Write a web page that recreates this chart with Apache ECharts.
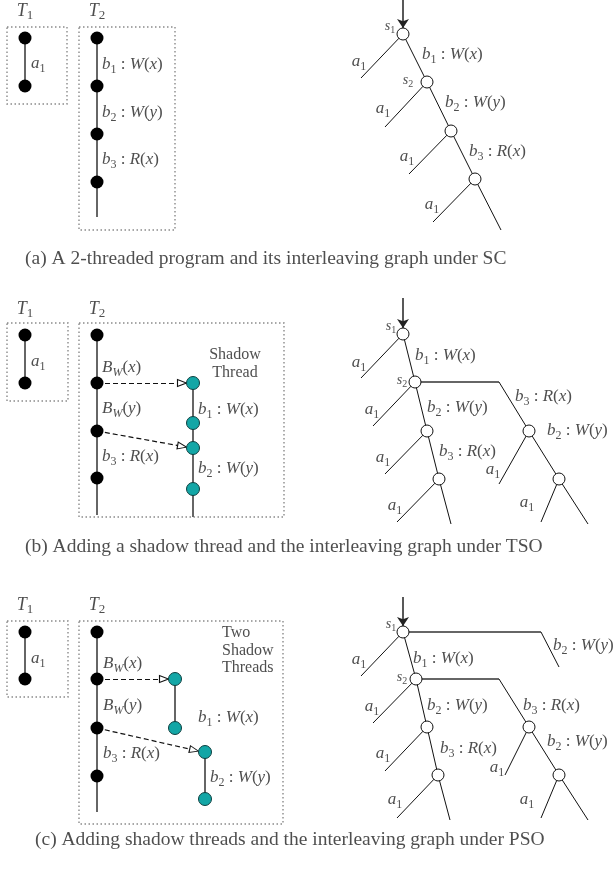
<!DOCTYPE html>
<html><head><meta charset="utf-8">
<script src="https://cdn.jsdelivr.net/npm/echarts@6/dist/echarts.min.js"></script>
<style>html,body{margin:0;padding:0;background:#fff}#c{width:613px;height:871px}</style>
</head><body><div id="c"></div>
<script>
// ---- diagram data (units = layout grid of the figure) ----
const dottedBoxes = [
  [7,27,67,104],[79,27,175,230],
  [7,323,68,401],[79,323,284,517],
  [7,621,68,697],[79,621,283,824]
];
const threadLines = [
  [[25,38],[25,86]],[[97,38],[97,217]],
  [[25,335],[25,383]],[[97,335],[97,515]],[[193,383],[193,517]],
  [[25,632],[25,679]],[[97,632],[97,812]],[[175,679],[175,728]],[[205,752],[205,799]]
];
const eventNodes = [
  [25,38],[25,86],[97,38],[97,86],[97,134],[97,182],
  [25,335],[25,383],[97,335],[97,383],[97,431],[97,478],
  [25,632],[25,679],[97,632],[97,679],[97,728],[97,776]
];
const shadowNodes = [
  [193,383],[193,423],[193,448],[193,489],
  [175,679],[175,728],[205,752],[205,799]
];
const dashedArrows = [
  [[97,383],[186,383]],[[97,431],[186,447]],
  [[97,679],[168,679]],[[97,728],[198,751]]
];
const entryArrows = [
  [[403,0],[403,28]],[[403,298],[403,328]],[[403,597],[403,626]]
];
const stateNodes = [
  [403,34],[427,82],[451,131],[475,179],
  [403,334],[415,382],[427,431],[439,479],[529,431],[559,479],
  [403,632],[416,679],[427,727],[438,775],[529,727],[559,775]
];
const treeEdges = [
  // (a)
  [[403,34],[427,82]],[[427,82],[451,131]],[[451,131],[475,179]],[[475,179],[501,230]],
  [[403,34],[361,78]],[[427,82],[385,127]],[[451,131],[409,174]],[[475,179],[433,222]],
  // (b)
  [[403,334],[415,382]],[[415,382],[427,431]],[[427,431],[439,479]],[[439,479],[451,524]],
  [[403,334],[361,378]],[[415,382],[373,426]],[[427,431],[385,474]],[[439,479],[397,522]],
  [[499,382],[529,431]],[[529,431],[559,479]],[[529,431],[499,484]],[[559,479],[541,522]],[[559,479],[588,524]],
  // (c)
  [[403,632],[416,679]],[[416,679],[427,727]],[[427,727],[438,775]],[[438,775],[450,820]],
  [[403,632],[361,676]],[[416,679],[373,723]],[[427,727],[385,771]],[[438,775],[397,818]],
  [[541,632],[559,667]],
  [[499,679],[529,727]],[[529,727],[559,775]],[[529,727],[505,775]],[[559,775],[541,818]],[[559,775],[588,820]]
];
const branchEdges = [
  [[415,382],[499,382]],
  [[403,632],[541,632]],[[416,679],[499,679]]
];
// labels: x, y, text, align ('left'|'center'), kind ('math'|'text'|'small'|'big')
const labels = [
  // (a) program
  [25,11,'T_1','center','big'],[97,11,'T_2','center','big'],
  [31,64,'a_1','left','math'],
  [102,65,'b_1 : W(x)','left','math'],[102,113,'b_2 : W(y)','left','math'],[102,160,'b_3 : R(x)','left','math'],
  // (a) tree
  [390,26,'s_1','center','small'],[408,80,'s_2','center','small'],
  [359,62,'a_1','center','math'],[383,109,'a_1','center','math'],[407,157,'a_1','center','math'],[432,205,'a_1','center','math'],
  [422,55,'b_1 : W(x)','left','math'],[445,103,'b_2 : W(y)','left','math'],[469,152,'b_3 : R(x)','left','math'],
  // (b) program
  [25,309,'T_1','center','big'],[97,309,'T_2','center','big'],
  [31,362,'a_1','left','math'],
  [102,368,'B_W(x)','left','math'],[102,409,'B_W(y)','left','math'],[102,457,'b_3 : R(x)','left','math'],
  [235,355,'Shadow','center','text'],[235,373,'Thread','center','text'],
  [198,410,'b_1 : W(x)','left','math'],[198,469,'b_2 : W(y)','left','math'],
  // (b) tree
  [391,326,'s_1','center','small'],[402,380,'s_2','center','small'],
  [359,363,'a_1','center','math'],[372,410,'a_1','center','math'],[383,458,'a_1','center','math'],[395,506,'a_1','center','math'],
  [493,470,'a_1','center','math'],[527,503,'a_1','center','math'],
  [415,356,'b_1 : W(x)','left','math'],[427,408,'b_2 : W(y)','left','math'],[439,452,'b_3 : R(x)','left','math'],
  [515,397,'b_3 : R(x)','left','math'],[547,431,'b_2 : W(y)','left','math'],
  // (c) program
  [25,605,'T_1','center','big'],[97,605,'T_2','center','big'],
  [31,659,'a_1','left','math'],
  [103,664,'B_W(x)','left','math'],[103,706,'B_W(y)','left','math'],[103,754,'b_3 : R(x)','left','math'],
  [222,633,'Two','left','text'],[222,651,'Shadow','left','text'],[222,668,'Threads','left','text'],
  [198,718,'b_1 : W(x)','left','math'],[210,778,'b_2 : W(y)','left','math'],
  // (c) tree
  [391,624,'s_1','center','small'],[402,677,'s_2','center','small'],
  [359,660,'a_1','center','math'],[372,707,'a_1','center','math'],[383,754,'a_1','center','math'],[395,800,'a_1','center','math'],
  [497,768,'a_1','center','math'],[527,800,'a_1','center','math'],
  [413,659,'b_1 : W(x)','left','math'],[427,706,'b_2 : W(y)','left','math'],[440,749,'b_3 : R(x)','left','math'],
  [523,706,'b_3 : R(x)','left','math'],[547,742,'b_2 : W(y)','left','math'],[553,646,'b_2 : W(y)','left','math']
];
const captions = [
  [25,259,'(a) A 2-threaded program and its interleaving graph under SC'],
  [25,547,'(b) Adding a shadow thread and the interleaving graph under TSO'],
  [35,840,'(c) Adding shadow threads and the interleaving graph under PSO']
];

// ---- build ----
const SERIF = '"Liberation Serif","DejaVu Serif",serif';
function toRich(s){
  let out='';
  for(let i=0;i<s.length;i++){
    let c=s[i];
    if(c==='_'){ const d=s[++i]; out+='{'+(/[A-Za-z]/.test(d)?'si':'sr')+'|'+d+'}'; continue; }
    out+='{'+(/[A-Za-z]/.test(c)?'i':'r')+'|'+c+'}';
  }
  return out;
}
function richSet(fs){
  const sub=Math.round(fs*0.7);
  return {
    i:{fontFamily:SERIF,fontStyle:'italic',fontSize:fs,color:'#222',lineHeight:fs+4},
    r:{fontFamily:SERIF,fontSize:fs,color:'#222',lineHeight:fs+4},
    si:{fontFamily:SERIF,fontStyle:'italic',fontSize:sub,color:'#222',lineHeight:sub,verticalAlign:'bottom'},
    sr:{fontFamily:SERIF,fontSize:sub,color:'#222',lineHeight:sub,verticalAlign:'bottom'}
  };
}
const sizeOf={math:17,small:14,big:18};
const labelData = labels.map(l=>{
  const kind=l[4];
  const lab={show:true,position:'inside',align:l[3],verticalAlign:'middle'};
  if(kind==='text'){
    lab.formatter=l[2]; lab.fontFamily=SERIF; lab.fontSize=16; lab.color='#222';
  } else {
    lab.formatter=toRich(l[2]); lab.rich=richSet(sizeOf[kind]);
  }
  return {value:[l[0],l[1]],label:lab};
});
const captionData = captions.map(c=>({value:[c[0],c[1]],label:{show:true,position:'inside',align:'left',verticalAlign:'middle',formatter:c[2],fontFamily:SERIF,fontSize:19.5,color:'#222'}}));

const boxLines = dottedBoxes.map(b=>({coords:[[b[0],b[1]],[b[2],b[1]],[b[2],b[3]],[b[0],b[3]],[b[0],b[1]]]}));
const arrowHeads = dashedArrows.map(a=>{
  const [p,q]=a; const dx=q[0]-p[0], dy=q[1]-p[1]; const L=Math.hypot(dx,dy);
  const ang=Math.atan2(dy,dx)*180/Math.PI;
  return {value:[q[0]-4*dx/L,q[1]-4*dy/L],symbolRotate:-90-ang};
});

const chart=echarts.init(document.getElementById('c'),null,{renderer:'canvas'});
chart.setOption({
  animation:false,
  backgroundColor:'#fff',
  grid:{left:0,right:0,top:0,bottom:0},
  xAxis:{type:'value',min:0,max:613,show:false},
  yAxis:{type:'value',min:0,max:871,inverse:true,show:false},
  series:[
    {type:'lines',coordinateSystem:'cartesian2d',polyline:true,silent:true,z:1,
     lineStyle:{color:'#8a8a8a',width:1.4,type:[1.5,2.5],opacity:1},data:boxLines},
    {type:'lines',coordinateSystem:'cartesian2d',silent:true,z:2,
     lineStyle:{color:'#666',width:2,opacity:1},data:threadLines.map(c=>({coords:c}))},
    {type:'lines',coordinateSystem:'cartesian2d',silent:true,z:2,
     lineStyle:{color:'#666',width:2,opacity:1},data:branchEdges.map(c=>({coords:c}))},
    {type:'lines',coordinateSystem:'cartesian2d',silent:true,z:2,
     lineStyle:{color:'#111',width:1,opacity:1},data:treeEdges.map(c=>({coords:c}))},
    {type:'lines',coordinateSystem:'cartesian2d',silent:true,z:2,
     lineStyle:{color:'#111',width:1.2,type:[5,3],opacity:1},data:dashedArrows.map(c=>({coords:c}))},
    {type:'lines',coordinateSystem:'cartesian2d',silent:true,z:2,symbol:['none','arrow'],symbolSize:9,
     lineStyle:{color:'#222',width:1.5,opacity:1},data:entryArrows.map(c=>({coords:c}))},
    {type:'scatter',silent:true,z:4,symbol:'triangle',symbolSize:[7,9],
     itemStyle:{color:'#fff',borderColor:'#111',borderWidth:1,opacity:1},data:arrowHeads},
    {type:'scatter',silent:true,z:5,symbol:'circle',symbolSize:13,
     itemStyle:{color:'#000',opacity:1},data:eventNodes},
    {type:'scatter',silent:true,z:5,symbol:'circle',symbolSize:13,
     itemStyle:{color:'#13a6a6',borderColor:'#0d3f3f',borderWidth:1,opacity:1},data:shadowNodes},
    {type:'scatter',silent:true,z:5,symbol:'circle',symbolSize:12,
     itemStyle:{color:'#fff',borderColor:'#111',borderWidth:1,opacity:1},data:stateNodes},
    {type:'scatter',silent:true,z:6,symbolSize:1,itemStyle:{color:'rgba(0,0,0,0)'},data:labelData},
    {type:'scatter',silent:true,z:6,symbolSize:1,itemStyle:{color:'rgba(0,0,0,0)'},data:captionData}
  ]
});
</script></body></html>
